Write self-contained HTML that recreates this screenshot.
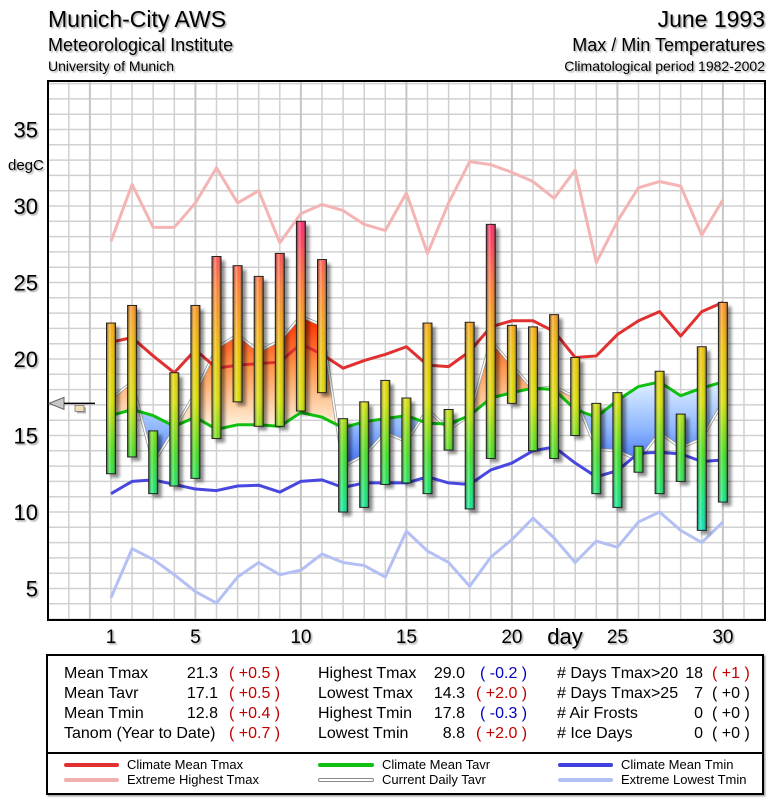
<!DOCTYPE html>
<html><head><meta charset="utf-8"><style>
html,body{margin:0;padding:0;background:#fff;}
svg{display:block;font-family:"Liberation Sans",sans-serif;}
</style></head><body>
<svg id="chart" width="775" height="800" viewBox="0 0 775 800">
<defs>
 <filter id="tsh" x="-10%" y="-10%" width="130%" height="140%"><feDropShadow dx="1.5" dy="1.5" stdDeviation="0.8" flood-color="#000" flood-opacity="0.35"/></filter>
 <filter id="bsh" x="-50%" y="-10%" width="250%" height="130%"><feGaussianBlur stdDeviation="1.5"/></filter>
 <linearGradient id="cyl" x1="0" x2="1" y1="0" y2="0">
  <stop offset="0" stop-color="#000" stop-opacity="0.45"/>
  <stop offset="0.35" stop-color="#fff" stop-opacity="0.35"/>
  <stop offset="0.6" stop-color="#fff" stop-opacity="0"/>
  <stop offset="1" stop-color="#000" stop-opacity="0.55"/>
 </linearGradient>
</defs>
<g id="header" filter="url(#tsh)">
 <text x="48" y="27" font-size="23">Munich-City AWS</text>
 <text x="48" y="51" font-size="18">Meteorological Institute</text>
 <text x="48" y="71" font-size="14">University of Munich</text>
 <text x="765" y="27" font-size="23" text-anchor="end">June 1993</text>
 <text x="765" y="51" font-size="18" text-anchor="end">Max / Min Temperatures</text>
 <text x="765" y="71" font-size="14" text-anchor="end">Climatological period 1982-2002</text>
</g>
<rect x="48" y="81" width="717" height="539" fill="#fff"/>
<g id="grid"></g>
<g id="fills"></g>
<g id="lines"></g>
<g id="bars"></g>
<rect x="48" y="81" width="717" height="539" fill="none" stroke="#000" stroke-width="2"/>
<g id="axes" filter="url(#tsh)"></g>
<g id="marker"></g>

<g font-size="16" filter="url(#tsh)">
 <rect x="47" y="655" width="716" height="139" fill="#fff" stroke="#000" stroke-width="2"/>
 <line x1="47" y1="753" x2="763" y2="753" stroke="#000" stroke-width="2"/>
 <g>
  <text x="64" y="678">Mean Tmax</text><text x="218" y="678" text-anchor="end">21.3</text><text x="229" y="678" fill="#c00000">( +0.5 )</text>
  <text x="64" y="698">Mean Tavr</text><text x="218" y="698" text-anchor="end">17.1</text><text x="229" y="698" fill="#c00000">( +0.5 )</text>
  <text x="64" y="718">Mean Tmin</text><text x="218" y="718" text-anchor="end">12.8</text><text x="229" y="718" fill="#c00000">( +0.4 )</text>
  <text x="64" y="738">Tanom (Year to Date)</text><text x="229" y="738" fill="#c00000">( +0.7 )</text>
 </g>
 <g>
  <text x="318" y="678">Highest Tmax</text><text x="465" y="678" text-anchor="end">29.0</text><text x="480" y="678" fill="#0000c0">( -0.2 )</text>
  <text x="318" y="698">Lowest Tmax</text><text x="465" y="698" text-anchor="end">14.3</text><text x="476" y="698" fill="#c00000">( +2.0 )</text>
  <text x="318" y="718">Highest Tmin</text><text x="465" y="718" text-anchor="end">17.8</text><text x="480" y="718" fill="#0000c0">( -0.3 )</text>
  <text x="318" y="738">Lowest Tmin</text><text x="465" y="738" text-anchor="end">8.8</text><text x="476" y="738" fill="#c00000">( +2.0 )</text>
 </g>
 <g>
  <text x="557" y="678"># Days Tmax&gt;20</text><text x="703" y="678" text-anchor="end">18</text><text x="712" y="678" fill="#c00000">( +1 )</text>
  <text x="557" y="698"># Days Tmax&gt;25</text><text x="703" y="698" text-anchor="end">7</text><text x="712" y="698">( +0 )</text>
  <text x="557" y="718"># Air Frosts</text><text x="703" y="718" text-anchor="end">0</text><text x="712" y="718">( +0 )</text>
  <text x="557" y="738"># Ice Days</text><text x="703" y="738" text-anchor="end">0</text><text x="712" y="738">( +0 )</text>
 </g>
</g>
<g font-size="13">
 <g><line x1="66" y1="765" x2="117" y2="765" stroke="#e03030" stroke-width="4" stroke-linecap="round"/><text x="127" y="769">Climate Mean Tmax</text></g>
 <g><line x1="66" y1="780" x2="117" y2="780" stroke="#f0b0b0" stroke-width="4" stroke-linecap="round"/><text x="127" y="784">Extreme Highest Tmax</text></g>
 <g><line x1="320" y1="765" x2="372" y2="765" stroke="#10c010" stroke-width="4" stroke-linecap="round"/><text x="382" y="769">Climate Mean Tavr</text></g>
 <g><line x1="320" y1="780" x2="372" y2="780" stroke="#888" stroke-width="4" stroke-linecap="round"/><line x1="320" y1="780" x2="372" y2="780" stroke="#fff" stroke-width="2" stroke-linecap="round"/><text x="382" y="784">Current Daily Tavr</text></g>
 <g><line x1="560" y1="765" x2="611" y2="765" stroke="#4040e0" stroke-width="4" stroke-linecap="round"/><text x="621" y="769">Climate Mean Tmin</text></g>
 <g><line x1="560" y1="780" x2="611" y2="780" stroke="#b0c0f0" stroke-width="4" stroke-linecap="round"/><text x="621" y="784">Extreme Lowest Tmin</text></g>
</g>
</svg>
<script>
const days = [1,2,3,4,5,6,7,8,9,10,11,12,13,14,15,16,17,18,19,20,21,22,23,24,25,26,27,28,29,30];
const tmax = [22.35,23.5,15.3,19.1,23.5,26.7,26.1,25.4,26.9,29.0,26.5,16.1,17.2,18.6,17.45,22.35,16.7,22.4,28.8,22.2,22.1,22.9,20.1,17.1,17.8,14.3,19.2,16.4,20.8,23.7];
const tmin = [12.5,13.6,11.2,11.7,12.2,14.8,17.2,15.6,15.6,16.6,17.8,10.0,10.3,11.8,11.9,11.2,14.05,10.2,13.5,17.1,14.0,13.5,15.0,11.2,10.3,12.6,11.2,12.0,8.8,10.65];
const tavr = [17.4,18.5,13.2,15.4,17.8,20.7,21.6,20.5,21.2,22.8,22.2,13.0,13.7,15.2,14.6,16.7,15.4,16.3,21.2,19.6,18.0,18.2,17.5,14.1,14.0,13.4,15.2,14.2,14.8,17.2];
const climTmax = [21.1,21.4,20.2,19.1,20.6,19.4,19.6,19.7,19.8,21.0,20.3,19.4,19.9,20.3,20.8,19.6,19.5,20.5,22.1,22.5,22.5,21.8,20.1,20.2,21.6,22.5,23.1,21.5,23.1,23.7];
const climTavr = [16.3,16.7,16.3,15.6,16.2,15.4,15.7,15.7,15.6,16.5,16.2,15.5,15.9,16.1,16.3,15.8,15.75,16.3,17.45,17.8,18.1,18.0,16.7,16.2,17.3,18.2,18.5,17.6,18.1,18.5];
const climTmin = [11.2,12.0,12.1,11.8,11.5,11.4,11.7,11.75,11.3,12.0,12.1,11.6,11.9,11.9,11.9,12.3,11.9,11.8,12.75,13.2,14.0,14.25,13.2,12.3,12.7,13.85,13.9,13.8,13.3,13.4];
const extMax = [27.7,31.4,28.6,28.6,30.2,32.5,30.2,31.0,27.6,29.5,30.1,29.7,28.8,28.4,30.85,26.9,30.2,32.9,32.7,32.2,31.6,30.5,32.35,26.3,29.0,31.2,31.6,31.3,28.1,30.4];
const extMin = [4.4,7.6,6.9,5.9,4.8,4.05,5.75,6.7,5.9,6.2,7.25,6.7,6.5,5.75,8.75,7.45,6.7,5.15,7.05,8.2,9.6,8.3,6.7,8.1,7.7,9.35,10.0,8.8,8.0,9.35];
const yTicks = [5,10,15,20,25,30,35];
const xTicks = [1,5,10,15,20,25,30];
const meanTavr = 17.1;

const NS='http://www.w3.org/2000/svg';
const X = d => 111 + (d-1)*21.1;
const Y = v => 512 - (v-10)*15.3;
function mk(tag, attrs, parent){const e=document.createElementNS(NS,tag);for(const k in attrs)e.setAttribute(k,attrs[k]);parent.appendChild(e);return e;}
const svg=document.getElementById('chart');
const defs=svg.querySelector('defs');

// grid
const grid=document.getElementById('grid');
for(let v=3; v<=38; v++){
  const l=mk('line',{x1:48,x2:765,y1:Y(v),y2:Y(v),stroke:'#d0d0d0','stroke-width':1.5},grid);
  
  
}
for(let d=-1; d<=32; d++){
  const major = d%5===0;
  const l=mk('line',{x1:X(d),x2:X(d),y1:81,y2:620,stroke:major?'#c6c6c6':'#d0d0d0','stroke-width':major?2:1.5},grid);
  
  
}

// gradients
function grad(id, stops, v1, v2){
  const g=mk('linearGradient',{id:id,gradientUnits:'userSpaceOnUse',x1:0,x2:0,y1:Y(v1),y2:Y(v2)},defs);
  stops.forEach(s=>mk('stop',{offset:s[0],'stop-color':s[1]},g));
}
grad('barGrad',[[0,'#ff2090'],[0.12,'#ff3060'],[0.28,'#ff8030'],[0.45,'#f0c000'],[0.6,'#d8e000'],[0.75,'#40e020'],[0.88,'#10e880'],[1,'#00e0d0']],31,8);
grad('warmGrad',[[0,'#ff3000'],[0.45,'#ff9a50'],[1,'#fff4e0']],22.5,15.5);
grad('coldGrad',[[0,'#e0f0ff'],[0.5,'#90b8ff'],[1,'#3060f0']],18.5,12.5);

// fills
const fills=document.getElementById('fills');
const tavrPts = days.map((d,i)=>X(d)+','+Y(tavr[i]));
const climPts = days.map((d,i)=>X(d)+','+Y(climTavr[i]));
const areaPts = tavrPts.concat(climPts.slice().reverse()).join(' ');
const cpA=mk('clipPath',{id:'aboveClim'},defs);
mk('polygon',{points:climPts.join(' ')+' '+X(30)+',81 '+X(1)+',81'},cpA);
const cpB=mk('clipPath',{id:'belowClim'},defs);
mk('polygon',{points:climPts.join(' ')+' '+X(30)+',620 '+X(1)+',620'},cpB);
const warm=mk('polygon',{points:areaPts,fill:'url(#warmGrad)','clip-path':'url(#aboveClim)'},fills);


const cold=mk('polygon',{points:areaPts,fill:'url(#coldGrad)','clip-path':'url(#belowClim)'},fills);



// lines
const lines=document.getElementById('lines');
function series(arr, color, w, name, outline){
  const pts=days.map((d,i)=>X(d)+','+Y(arr[i])).join(' ');
  if(outline){
    const o=mk('polyline',{points:pts,fill:'none',stroke:outline,'stroke-width':w+1.5,'stroke-linejoin':'round'},lines);
    
    
  }
  const p=mk('polyline',{points:pts,fill:'none',stroke:color,'stroke-width':w,'stroke-linejoin':'round'},lines);
  
  
}
series(extMax,'#f4b4b4',3,'extreme-highest-tmax-line');
series(extMin,'#b4c0f4',3,'extreme-lowest-tmin-line');
series(tavr,'#fff',1.5,'current-daily-tavr-line','#999');
series(climTmax,'#e03030',3,'climate-mean-tmax-line');
series(climTavr,'#10c010',3,'climate-mean-tavr-line');
series(climTmin,'#4848e0',3,'climate-mean-tmin-line');

// bars
const bars=document.getElementById('bars');
days.forEach((d,i)=>{
  const g=mk('g',{},bars);
  
  
  const x=X(d)-4.5, y1=Y(tmax[i]), h=Y(tmin[i])-Y(tmax[i]);
  mk('rect',{x:x+4,y:y1+4,width:9,height:h,fill:'#000',opacity:0.45,filter:'url(#bsh)'},g);
  mk('rect',{x:x,y:y1,width:9,height:h,fill:'url(#barGrad)'},g);
  mk('rect',{x:x,y:y1,width:9,height:h,fill:'url(#cyl)',stroke:'#222','stroke-width':1},g);
});

// axes labels
const axes=document.getElementById('axes');
yTicks.forEach(v=>{
  const t=mk('text',{x:38,y:Y(v)+8,'font-size':22,'text-anchor':'end'},axes);
  t.textContent=v;
  
  
});
const yt=mk('text',{x:8,y:170,'font-size':15},axes);
yt.textContent='degC';


xTicks.forEach(d=>{
  const t=mk('text',{x:X(d),y:643,'font-size':19,'text-anchor':'middle'},axes);
  t.textContent=d;
  
  
});
const xt=mk('text',{x:565,y:644,'font-size':22,'text-anchor':'middle'},axes);
xt.textContent='day';



// marker
const mg=document.getElementById('marker');
const my=Y(meanTavr);
mk('polygon',{points:`49,${my} 64,${my-6} 64,${my+6}`,fill:'#c8c8c8',stroke:'#666','stroke-width':1},mg);
mk('line',{x1:64,x2:95,y1:my,y2:my,stroke:'#000','stroke-width':1.5},mg);
mk('rect',{x:77,y:my+4,width:9,height:6,fill:'#666',opacity:0.5},mg);
mk('rect',{x:75,y:my+2,width:9,height:6,fill:'#efe0b8',stroke:'#777','stroke-width':0.8},mg);
</script>
</body></html>
